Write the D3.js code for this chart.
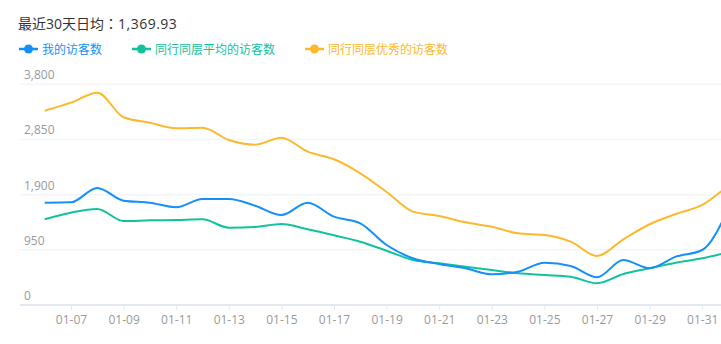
<!DOCTYPE html>
<html>
<head>
<meta charset="utf-8">
<script src="https://cdn.jsdelivr.net/npm/d3@7/dist/d3.min.js"></script>
<style>
html,body{margin:0;padding:0;background:#fff;overflow:hidden;}
svg{display:block;font-family:"Open Sans","Noto Sans CJK SC",sans-serif;}
</style>
</head>
<body>
<svg id="chart" width="721" height="344"></svg>
<script>
const titleParts = ["最近30天日均", "：", "1,369.93"];
const dates = ["01-06","01-07","01-08","01-09","01-10","01-11","01-12","01-13","01-14","01-15","01-16","01-17","01-18","01-19","01-20","01-21","01-22","01-23","01-24","01-25","01-26","01-27","01-28","01-29","01-30","01-31","02-01"];
const seriesNames = ["我的访客数","同行同层平均的访客数","同行同层优秀的访客数"];
const seriesColors = ["#1490fb","#11c39d","#fdb82c"];
const mine = [1762,1768,2015,1796,1762,1682,1825,1825,1710,1550,1762,1521,1407,1033,804,706,632,529,574,728,672,477,775,632,832,947,1660];
const peerAvg = [1476,1590,1653,1446,1458,1464,1476,1331,1343,1395,1303,1200,1090,935,775,718,660,603,546,517,487,374,534,632,728,804,912];
const peerTop = [3346,3484,3656,3232,3139,3043,3053,2841,2761,2881,2640,2509,2268,1946,1607,1533,1424,1348,1234,1205,1090,844,1131,1390,1567,1722,2060];
const yTicks = [0,950,1900,2850,3800];
const xLabels = ["01-07","01-09","01-11","01-13","01-15","01-17","01-19","01-21","01-23","01-25","01-27","01-29","01-31"];

const svg = d3.select("#chart");
const x = d3.scalePoint().domain(dates).range([44.7, 44.7 + 26.3*(dates.length-1)]);
const y = d3.scaleLinear().domain([0,3800]).range([305, 84.3]);

// title
const t = svg.append("text").attr("x",18).attr("y",29).attr("font-size",14).attr("fill","#333");
t.append("tspan").text(titleParts[0]);
t.append("tspan").attr("font-family","'Noto Sans CJK TC',sans-serif").text(titleParts[1]);
t.append("tspan").attr("letter-spacing",0.5).text(titleParts[2]);

// legend
const legX = [19, 132, 305];
seriesNames.forEach((n,i)=>{
  const g = svg.append("g").attr("transform",`translate(${legX[i]},49)`);
  g.append("line").attr("x1",0).attr("x2",19).attr("y1",0).attr("y2",0).attr("stroke",seriesColors[i]).attr("stroke-width",2.5);
  g.append("circle").attr("cx",9.5).attr("cy",0).attr("r",4.5).attr("fill",seriesColors[i]);
  g.append("text").attr("x",23).attr("y",4.5).attr("font-size",12).attr("fill",seriesColors[i]).text(n);
});

// grid lines
svg.append("g").selectAll("line").data(yTicks.filter(d=>d>0)).join("line")
  .attr("x1",20).attr("x2",721).attr("y1",d=>y(d)).attr("y2",d=>y(d))
  .attr("stroke","#f3f5fa").attr("stroke-width",1.5);

// y labels
svg.append("g").selectAll("text").data(yTicks).join("text")
  .attr("x",24).attr("y",d=>y(d)-5).attr("font-size",12).attr("fill","#9a9a9a")
  .text(d=>d3.format(",")(d));

// x axis
const xAxis = d3.axisBottom(x).tickValues(xLabels).tickSize(5).tickPadding(5);
const xg = svg.append("g").attr("transform","translate(0,305)").call(xAxis);
xg.select(".domain").remove();
xg.selectAll(".tick line").attr("stroke","#e3e8f0");
xg.selectAll(".tick text").attr("font-size",12).attr("fill","#9a9a9a").attr("font-family","'Open Sans','Noto Sans CJK SC',sans-serif");
svg.append("line").attr("x1",20).attr("x2",721).attr("y1",305).attr("y2",305).attr("stroke","#e3e8f0").attr("stroke-width",2);

// lines
const line = d3.line().x((d,i)=>x(dates[i])).y(d=>y(d)).curve(d3.curveMonotoneX);
[peerTop, peerAvg, mine].forEach((s,k)=>{
  const ci = [2,1,0][k];
  svg.append("path").datum(s).attr("d",line).attr("fill","none")
    .attr("stroke",seriesColors[ci]).attr("stroke-width",2);
});
</script>
</body>
</html>
